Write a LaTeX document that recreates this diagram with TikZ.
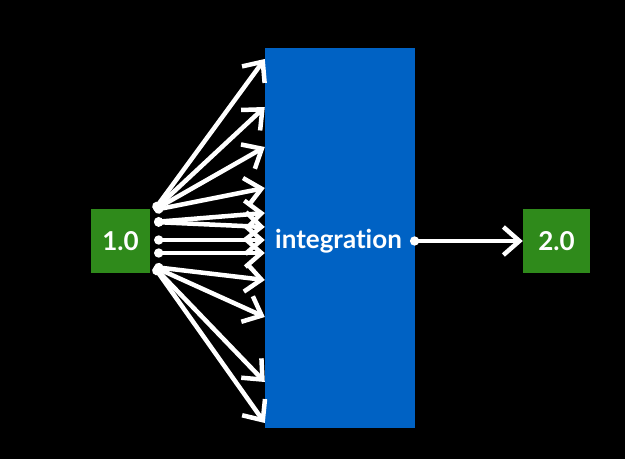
\documentclass[tikz,border=0pt]{standalone}
\usepackage{fontspec}
\setmainfont{Lato}[Ligatures=CommonOff]
\usetikzlibrary{arrows.meta, positioning, calc}
\definecolor{cgreen}{HTML}{2F8A1B}
\definecolor{cblue}{HTML}{0062C4}

\begin{document}
\begin{tikzpicture}[x=1pt, y=1pt,
  valbox/.style={fill=cgreen, minimum width=59pt, minimum height=64pt, text=white, font=\fontsize{26}{28}\selectfont\bfseries},
  arr/.style={white, line width=4.5pt, line cap=round, {Circle[length=9pt]}-{Straight Barb[length=16pt, width=28pt]}}
]

  % Background
  \fill[black] (0,0) rectangle (625,459);
  \useasboundingbox (0,0) rectangle (625,459);

  % Integration block
  \node[fill=cblue, minimum width=150pt, minimum height=380pt] (integ) at (340,221) {};
  \node[anchor=west, text=white, font=\fontsize{26}{28}\selectfont\bfseries, inner sep=0pt] (lbl) at (275,218) {integration};

  % Values
  \node[valbox] (src) at (120.5,218) {1.0};
  \node[valbox, minimum width=67pt] (tgt) at (556.5,218) {2.0};

  % Fan of arrows: start y / end y
  \foreach \s/\e in {249/400, 249/352, 249/312, 249/271, 237/246, 237/232,
                     219/219, 206/206, 192/179, 192/142, 192/77, 192/36}
    \draw[arr] (src.east |- 0,\s) ++(4,0) -- (integ.west |- 0,\e);

  % Output
  \draw[arr] (lbl.east) ++(8,0) -- (tgt.west);

\end{tikzpicture}
\end{document}
